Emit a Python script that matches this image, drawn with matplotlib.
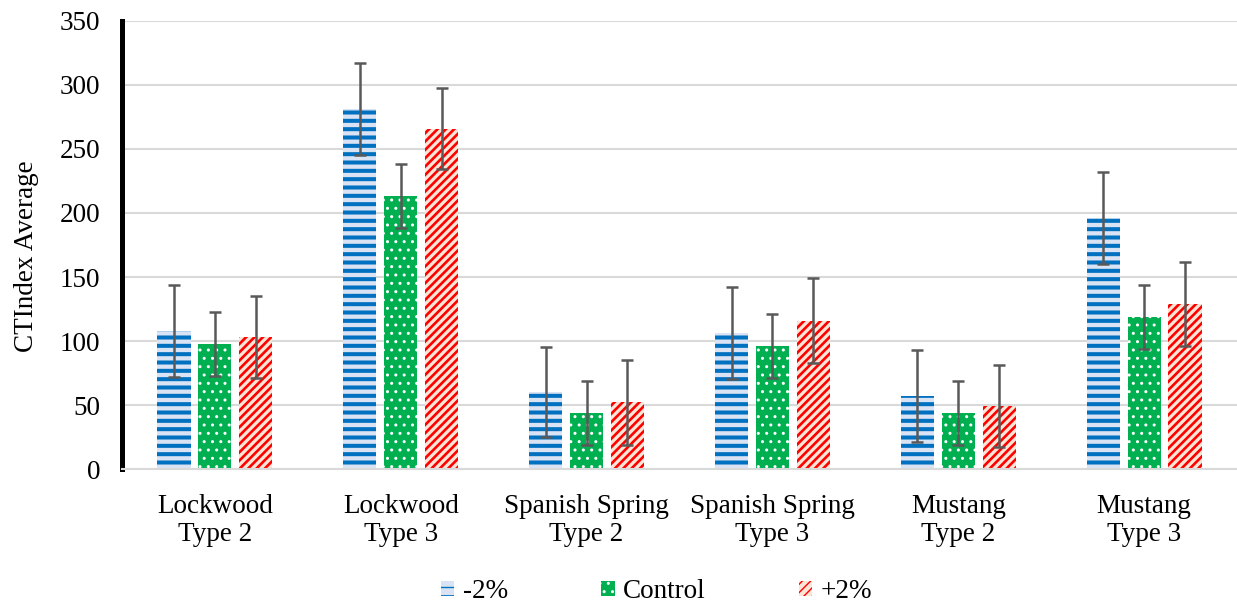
import matplotlib
matplotlib.use("Agg")
import matplotlib.pyplot as plt
import numpy as np
from matplotlib.patches import Patch

categories = ["Lockwood\nType 2", "Lockwood\nType 3", "Spanish Spring\nType 2",
              "Spanish Spring\nType 3", "Mustang\nType 2", "Mustang\nType 3"]
series_names = ["-2%", "Control", "+2%"]
minus2 = [108, 281, 60, 106, 57, 196]
control = [98, 213, 44, 96, 44, 119]
plus2 = [103, 266, 52, 116, 49, 129]
minus2_err = [36, 36, 35, 36, 36, 36]
control_err = [25, 25, 25, 25, 25, 25]
plus2_err = [32, 32, 33, 33, 32, 33]

plt.rcParams["font.family"] = ["Liberation Serif", "DejaVu Serif"]

fig = plt.figure(figsize=(12.37, 6.03), dpi=100)
ax = fig.add_axes([0.0986, 0.2222, 0.9014, 0.743])

x = np.arange(len(categories))
w = 0.178
step = 0.22

styles = [
    dict(face="#DAE3F3", hatch_col="#0070C0", hatch="--", hlw=2.9),
    dict(face="#00B050", hatch_col="#FFFFFF", hatch="..", hlw=1.0),
    dict(face="#FBE5D6", hatch_col="#FF0000", hatch="////", hlw=1.9),
]
data = [minus2, control, plus2]
errs = [minus2_err, control_err, plus2_err]

for i, (vals, err, st) in enumerate(zip(data, errs, styles)):
    with plt.rc_context({"hatch.linewidth": st["hlw"]}):
        bars = ax.bar(x + (i - 1) * step, vals, width=w, color=st["face"],
                      edgecolor=st["hatch_col"], hatch=st["hatch"], linewidth=0,
                      zorder=2)
        for b in bars:
            if hasattr(b, "set_hatch_linewidth"):
                b.set_hatch_linewidth(st["hlw"])
    ax.errorbar(x + (i - 1) * step, vals, yerr=err, fmt="none", ecolor="#595959",
                elinewidth=1.8, capsize=4.5, capthick=1.8, zorder=3)

ax.set_ylim(0, 350)
ax.set_xlim(-0.5, len(categories) - 0.5)
ax.set_yticks(np.arange(0, 351, 50))
ax.yaxis.grid(True, color="#D9D9D9", linewidth=1.5, zorder=0)
ax.set_axisbelow(True)
ax.set_xticks(x)
ax.set_xticklabels(categories, fontsize=19.5, linespacing=1.15)
ax.tick_params(axis="y", labelsize=19.5, length=0, pad=15.5)
ax.tick_params(axis="x", length=0, pad=18)
ax.set_ylabel("CTIndex Average", fontsize=19.5)
ax.yaxis.set_label_coords(-0.074, 0.475)

for s in ["top", "right"]:
    ax.spines[s].set_visible(False)
ax.spines["bottom"].set_color("#D9D9D9")
ax.spines["bottom"].set_linewidth(1.5)
ax.spines["left"].set_color("black")
ax.spines["left"].set_linewidth(3.6)

handles = []
for name, st in zip(series_names, styles):
    with plt.rc_context({"hatch.linewidth": st["hlw"]}):
        handles.append(Patch(facecolor=st["face"], edgecolor=st["hatch_col"],
                             hatch=st["hatch"], linewidth=0, label=name))
fig.legend(handles=handles, loc="center", bbox_to_anchor=(0.5307, 0.019), ncol=3,
           frameon=False, fontsize=19.5, handlelength=0.5, handleheight=0.5,
           handletextpad=0.3, columnspacing=3.45)

fig.savefig("out.png", dpi=100)
